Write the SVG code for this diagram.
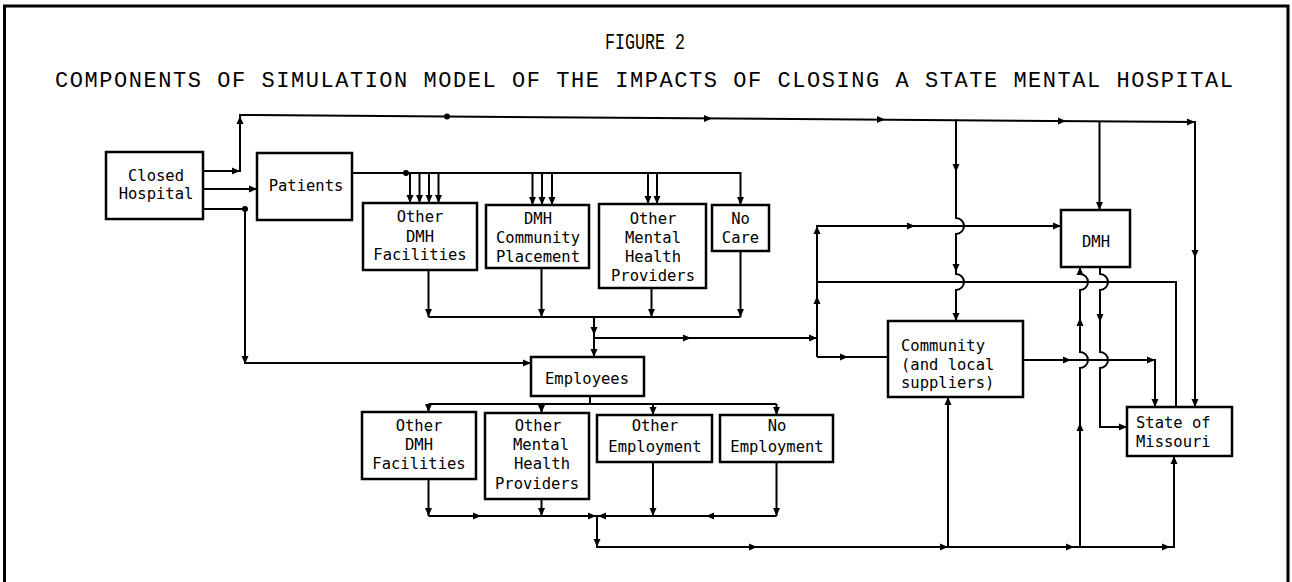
<svg xmlns="http://www.w3.org/2000/svg" xmlns:xlink="http://www.w3.org/1999/xlink" width="1292" height="582" viewBox="0 0 1292 582">
<style>
.bx{fill:none;stroke:#000;stroke-width:2.5}
.ln{fill:none;stroke:#000;stroke-width:2}
.t{font-family:"DejaVu Sans Mono","Liberation Mono",monospace;font-size:15.5px;fill:#000}
.m{text-anchor:middle}
.h{font-family:"Liberation Mono","DejaVu Sans Mono",monospace;font-size:22px;fill:#000;text-anchor:middle}
</style>
<defs>
<path id="aR" d="M0,0 L-8,-3.5 L-8,3.5 Z"/>
<path id="aL" d="M0,0 L8,-3.5 L8,3.5 Z"/>
<path id="aD" d="M0,0 L-3.5,-8 L3.5,-8 Z"/>
<path id="aU" d="M0,0 L-3.5,8 L3.5,8 Z"/>
</defs>
<rect width="1292" height="582" fill="#fff"/>
<path d="M4.5,600 V6 H1288 V600" fill="none" stroke="#000" stroke-width="3"/>
<text class="h" x="645" y="49" textLength="80" lengthAdjust="spacingAndGlyphs">FIGURE 2</text>
<text class="h" x="644" y="87" textLength="1178" lengthAdjust="spacing">COMPONENTS OF SIMULATION MODEL OF THE IMPACTS OF CLOSING A STATE MENTAL HOSPITAL</text>

<g id="connectors">
<path class="ln" d="M203,171 H240 V115 L1195,122 V407"/>
<use href="#aR" x="240" y="171"/>
<use href="#aU" x="240" y="116"/>
<circle cx="447" cy="116.5" r="3"/>
<use href="#aR" x="712" y="118.5"/>
<use href="#aR" x="885" y="119.5"/>
<use href="#aR" x="1066" y="121"/>
<use href="#aR" x="1195" y="122"/>
<use href="#aD" x="1195" y="258"/>
<use href="#aD" x="1195" y="407"/>
<path class="ln" d="M956,119.5 V218 A8,8 0 0 1 956,234 V274 A8,8 0 0 1 956,290 V321"/>
<use href="#aD" x="956" y="172"/>
<use href="#aD" x="956" y="272"/>
<use href="#aD" x="956" y="321"/>
<path class="ln" d="M1099.5,121 V210"/>
<use href="#aD" x="1099.5" y="210"/>
<path class="ln" d="M203,189 H257"/>
<use href="#aR" x="257" y="189"/>
<path class="ln" d="M203,209 H245 V363 H531"/>
<circle cx="245" cy="209" r="3"/>
<use href="#aD" x="245" y="364"/>
<use href="#aR" x="531" y="363"/>
<path class="ln" d="M352,173 H740.5 V205"/>
<circle cx="406" cy="173" r="3"/>
<path class="ln" d="M410,173 V203 M419.5,173 V203 M429,173 V203 M438.5,173 V203 M532.5,173 V205 M542,173 V205 M552,173 V205 M648,173 V204 M657,173 V204"/>
<use href="#aD" x="410" y="203"/>
<use href="#aD" x="419.5" y="203"/>
<use href="#aD" x="429" y="203"/>
<use href="#aD" x="438.5" y="203"/>
<use href="#aD" x="532.5" y="205"/>
<use href="#aD" x="542" y="205"/>
<use href="#aD" x="552" y="205"/>
<use href="#aD" x="648" y="204"/>
<use href="#aD" x="657" y="204"/>
<use href="#aD" x="740.5" y="205"/>
<path class="ln" d="M428.5,270 V317 M541.5,268 V317 M651.5,288 V317 M740.5,251 V317 M428.5,317 H740.5"/>
<use href="#aD" x="428.5" y="317"/>
<use href="#aD" x="541.5" y="317"/>
<use href="#aD" x="651.5" y="317"/>
<use href="#aD" x="740.5" y="317"/>
<path class="ln" d="M594,317 V357"/>
<use href="#aD" x="594" y="335"/>
<use href="#aD" x="594" y="357"/>
<path class="ln" d="M594,338 H817 M817,357 V226 H1061 M817,282 H1176 V407 M817,357 H888"/>
<use href="#aR" x="691" y="338"/>
<use href="#aR" x="817" y="338"/>
<use href="#aU" x="817" y="296"/>
<use href="#aU" x="817" y="226"/>
<use href="#aR" x="915" y="226"/>
<use href="#aR" x="1061" y="226"/>
<use href="#aR" x="848" y="357"/>
<path class="ln" d="M590,396 V404 M428.5,404 H776.5 M428.5,404 V412 M541.5,404 V413 M653,404 V415 M776.5,404 V415"/>
<use href="#aD" x="428.5" y="412"/>
<use href="#aD" x="541.5" y="413"/>
<use href="#aD" x="653" y="415"/>
<use href="#aD" x="776.5" y="415"/>
<path class="ln" d="M428.5,479 V516 M541.5,499 V516 M653,462 V516 M776.5,462 V516 M428.5,516 H776.5"/>
<use href="#aD" x="428.5" y="516"/>
<use href="#aD" x="541.5" y="516"/>
<use href="#aD" x="653" y="516"/>
<use href="#aD" x="776.5" y="516"/>
<use href="#aR" x="481" y="516"/>
<use href="#aR" x="596" y="516"/>
<use href="#aL" x="598" y="516"/>
<use href="#aL" x="706" y="516"/>
<path class="ln" d="M597,516 V547 H1174 V456"/>
<use href="#aD" x="597" y="547"/>
<use href="#aR" x="757" y="547"/>
<use href="#aR" x="948" y="547"/>
<use href="#aR" x="1074" y="547"/>
<use href="#aR" x="1170" y="547"/>
<use href="#aU" x="1174" y="456"/>
<path class="ln" d="M948,547 V397"/>
<use href="#aU" x="948" y="397"/>
<path class="ln" d="M1080,547 V368 A8,8 0 0 0 1080,352 V290 A8,8 0 0 0 1080,274 V267"/>
<use href="#aU" x="1080" y="423"/>
<use href="#aU" x="1080" y="318"/>
<use href="#aU" x="1080" y="267"/>
<path class="ln" d="M1100,267 V274 A8,8 0 0 1 1100,290 V352 A8,8 0 0 1 1100,368 V427 H1127"/>
<use href="#aD" x="1100" y="322"/>
<use href="#aR" x="1127" y="427"/>
<path class="ln" d="M1023,360 H1155 V407"/>
<use href="#aR" x="1071" y="360"/>
<use href="#aR" x="1155" y="360"/>
<use href="#aD" x="1155" y="407"/>
</g>

<g id="closed-hospital"><rect class="bx" x="106" y="152" width="97" height="67"/><text class="t m" x="156" y="181">Closed</text><text class="t m" x="156" y="199">Hospital</text></g>
<g id="patients"><rect class="bx" x="257" y="153" width="95" height="67"/><text class="t m" x="306" y="191">Patients</text></g>
<g id="p-other-dmh"><rect class="bx" x="363" y="203" width="114" height="67"/><text class="t m" x="420" y="222">Other</text><text class="t m" x="420" y="241.5">DMH</text><text class="t m" x="420" y="260">Facilities</text></g>
<g id="p-dmh-community"><rect class="bx" x="486" y="205" width="103" height="63"/><text class="t m" x="538" y="224">DMH</text><text class="t m" x="538" y="243">Community</text><text class="t m" x="538" y="261.5">Placement</text></g>
<g id="p-other-mh"><rect class="bx" x="599" y="204" width="107" height="84"/><text class="t m" x="653" y="224">Other</text><text class="t m" x="653" y="243">Mental</text><text class="t m" x="653" y="261.5">Health</text><text class="t m" x="653" y="280.5">Providers</text></g>
<g id="p-no-care"><rect class="bx" x="712" y="205" width="57" height="46"/><text class="t m" x="740.5" y="224">No</text><text class="t m" x="740.5" y="243">Care</text></g>
<g id="employees"><rect class="bx" x="531" y="357" width="113" height="39"/><text class="t m" x="587" y="384">Employees</text></g>
<g id="e-other-dmh"><rect class="bx" x="362" y="412" width="114" height="67"/><text class="t m" x="419" y="430.5">Other</text><text class="t m" x="419" y="450">DMH</text><text class="t m" x="419" y="469">Facilities</text></g>
<g id="e-other-mh"><rect class="bx" x="485" y="413" width="104" height="86"/><text class="t m" x="538" y="430.5">Other</text><text class="t m" x="541" y="450">Mental</text><text class="t m" x="542" y="469">Health</text><text class="t m" x="537" y="489">Providers</text></g>
<g id="e-other-employment"><rect class="bx" x="597" y="415" width="115" height="47"/><text class="t m" x="655" y="430.5">Other</text><text class="t m" x="655" y="452">Employment</text></g>
<g id="e-no-employment"><rect class="bx" x="720" y="415" width="113" height="47"/><text class="t m" x="777" y="430.5">No</text><text class="t m" x="777" y="452">Employment</text></g>
<g id="community"><rect class="bx" x="888" y="321" width="135" height="76"/><text class="t" x="901" y="350.5">Community</text><text class="t" x="901" y="369.5">(and local</text><text class="t" x="901" y="388"> suppliers)</text></g>
<g id="dmh"><rect class="bx" x="1061" y="210" width="69" height="57"/><text class="t m" x="1096" y="247">DMH</text></g>
<g id="state"><rect class="bx" x="1127" y="407" width="105" height="49"/><text class="t" x="1136" y="428">State of</text><text class="t" x="1136" y="447">Missouri</text></g>
</svg>
